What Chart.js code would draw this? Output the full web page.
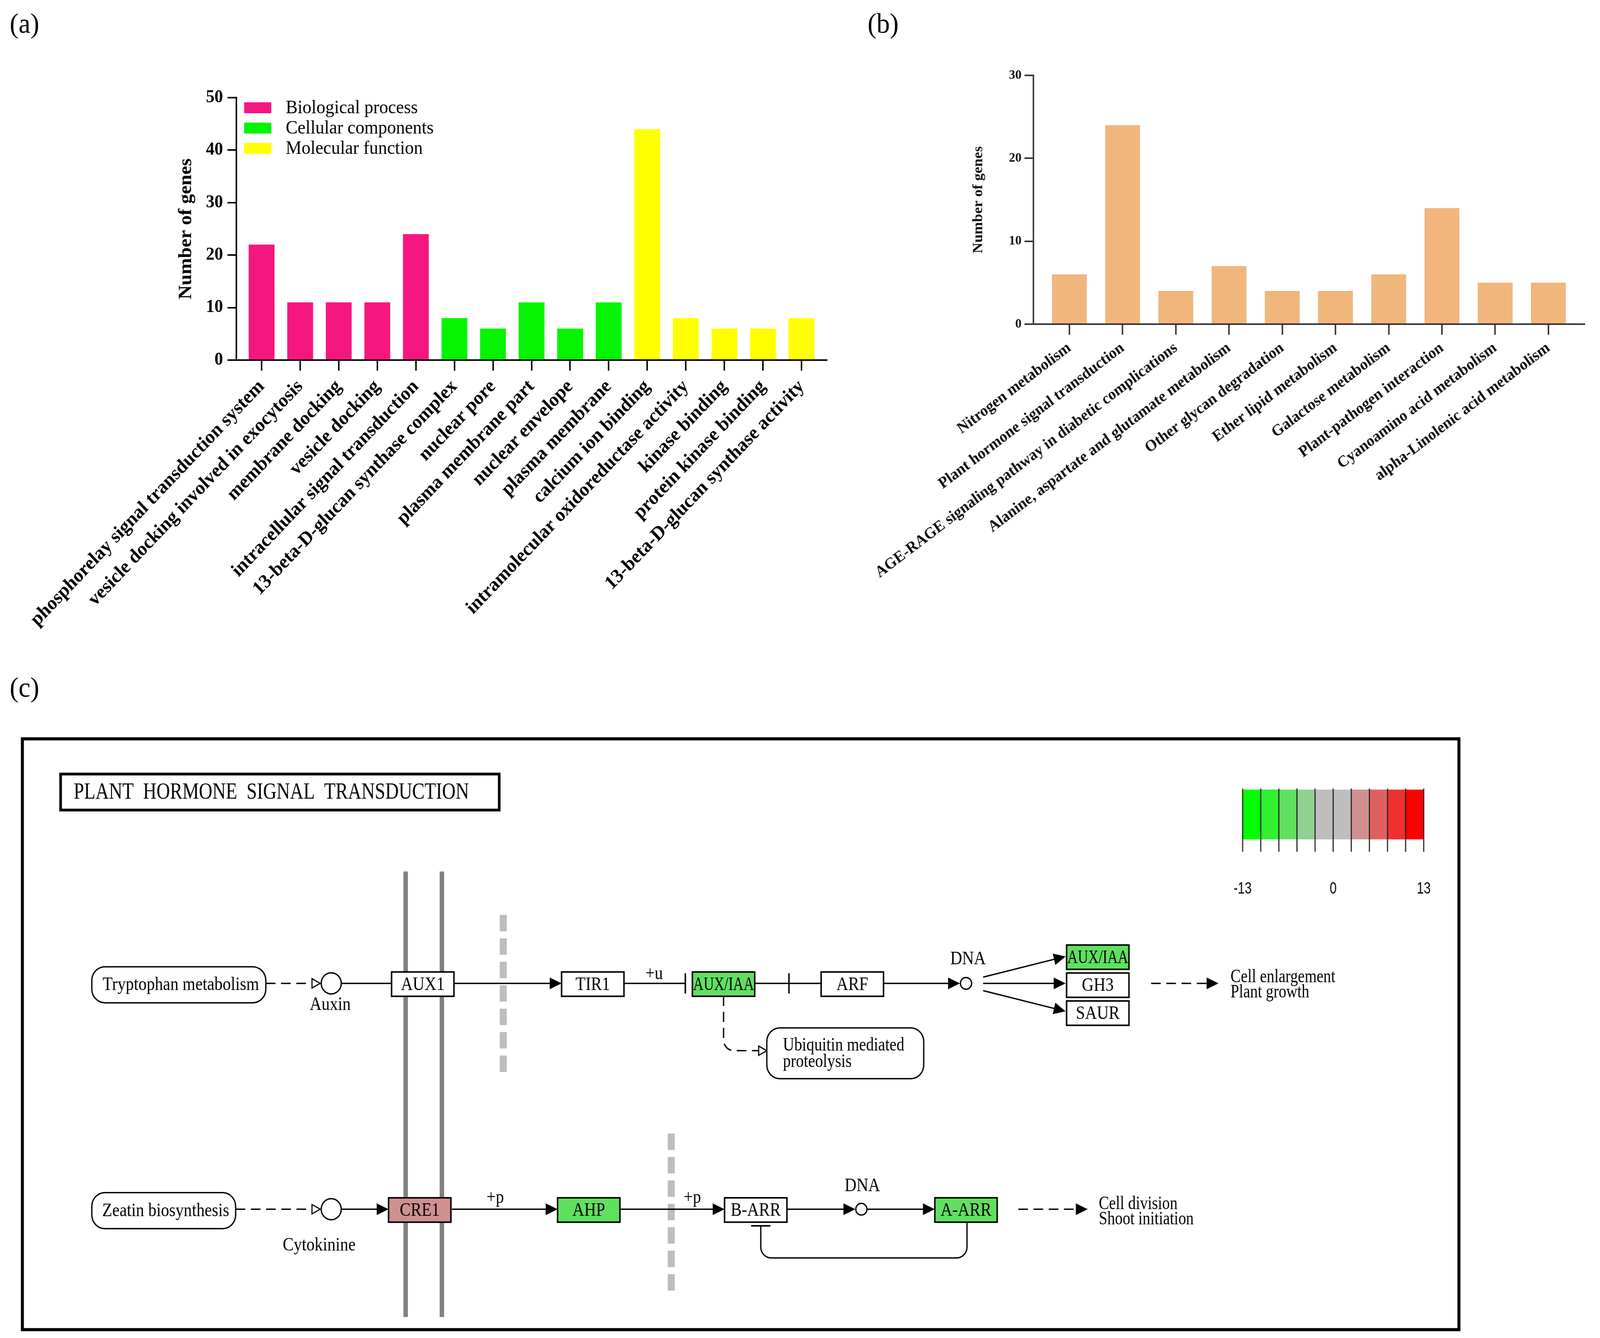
<!DOCTYPE html>
<html>
<head>
<meta charset="utf-8">
<script src="https://cdn.jsdelivr.net/npm/chart.js@4.4.1/dist/chart.umd.min.js"></script>
<style>
  html, body { margin: 0; padding: 0; background: #fff; overflow: hidden; }
  #page { position: relative; width: 4312px; height: 3426px; overflow: hidden; background: #fff; transform-origin: 0 0; }
  canvas { position: absolute; }
  .tag { position: absolute; font-family: "Liberation Serif", "Times New Roman", serif; font-size: 72px; line-height: 1; color: #000; }
</style>
</head>
<body>
<div id="page">
  <div class="tag" style="left:26px;top:24px">(a)</div>
  <div class="tag" style="left:2338px;top:24px">(b)</div>
  <div class="tag" style="left:26px;top:1724px">(c)</div>
  <canvas id="goChart" width="2300" height="1700" style="left:0;top:0;width:2300px;height:1700px"></canvas>
  <canvas id="keggChart" width="2012" height="1700" style="left:2300px;top:0;width:2012px;height:1700px"></canvas>
  <canvas id="pathChart" width="4312" height="1726" style="left:0;top:1700px;width:4312px;height:1726px"></canvas>
</div>
<script>
// the figure is laid out at 4312 x 3426; squeeze it into the real viewport if that is smaller
var fitX = Math.min(1, window.innerWidth / 4312)
var fitY = Math.min(1, window.innerHeight / 3426)
document.getElementById('page').style.transform = 'scale(' + fitX + ',' + fitY + ')'

// (a) GO enrichment
var goTerms = [
  'phosphorelay signal transduction system',
  'vesicle docking involved in exocytosis',
  'membrane docking',
  'vesicle docking',
  'intracellular signal transduction',
  '13-beta-D-glucan synthase complex',
  'nuclear pore',
  'plasma membrane part',
  'nuclear envelope',
  'plasma membrane',
  'calcium ion binding',
  'intramolecular oxidoreductase activity',
  'kinase binding',
  'protein kinase binding',
  '13-beta-D-glucan synthase activity'
]
var goGenes = [22, 11, 11, 11, 24, 8, 6, 11, 6, 11, 44, 8, 6, 6, 8]
var goOntology = [0, 0, 0, 0, 0, 1, 1, 1, 1, 1, 2, 2, 2, 2, 2]
var goOntologyNames = ['Biological process', 'Cellular components', 'Molecular function']
var goAxisMax = 50
var goAxisStep = 10

// (b) KEGG enrichment
var keggPathways = [
  'Nitrogen metabolism',
  'Plant hormone signal transduction',
  'AGE-RAGE signaling pathway in diabetic complications',
  'Alanine, aspartate and glutamate metabolism',
  'Other glycan degradation',
  'Ether lipid metabolism',
  'Galactose metabolism',
  'Plant-pathogen interaction',
  'Cyanoamino acid metabolism',
  'alpha-Linolenic acid metabolism'
]
var keggGenes = [6, 24, 4, 7, 4, 4, 6, 14, 5, 5]
var keggAxisMax = 30
var keggAxisStep = 10

// (c) plant hormone signal transduction map
var geneNames = ['AUX1', 'TIR1', 'AUX/IAA', 'ARF', 'AUX/IAA', 'GH3', 'SAUR', 'CRE1', 'AHP', 'B-ARR', 'A-ARR']
var geneLevel = [null, null, -6, null, -6, null, null, 4, -6, null, -6]   // null = not found
var compoundNames = ['Auxin', 'Cytokinine', 'DNA', 'DNA']
var mapNames = [['Tryptophan metabolism'], ['Zeatin biosynthesis'], ['Ubiquitin mediated', 'proteolysis']]
var outcomeNames = [['Cell enlargement', 'Plant growth'], ['Cell division', 'Shoot initiation']]
var edgeLabels = ['+u', '+p', '+p']
var keyMin = -13
var keyMax = 13
var keyLabels = [-13, 0, 13]
var mapTitle = 'PLANT  HORMONE  SIGNAL  TRANSDUCTION'

// styles
var SERIF = '"Liberation Serif", "Times New Roman", serif'
var goColors = ['#F6167F', '#04F404', '#FFFF00']
var keggColor = '#F0B67C'
var keyColors = ['#00FF00', '#30F030', '#60E060', '#90D090', '#BEBEBE', '#BEBEBE', '#D09090', '#E06060', '#F03030', '#FF0000']

// map geometry (KEGG map units, frame origin top-left)
var frameBox = [0, 0, 1428, 558]
var titleBox = [38, 34, 436, 34]
var geneBox = [[367, 225], [536, 225], [666, 225], [794, 225], [1038, 199], [1038, 226], [1038, 253],
  [364, 443], [532, 443], [698, 443], [907, 443]]
var geneW = 62, geneH = 23
var compoundAt = [[307, 236], [307, 454], [938, 236], [834, 454]]
var compoundLabelAt = [[306, 257], [295, 489], [940, 213], [835, 432]]
var compoundR = [27, 27, 15, 15]
var mapBox = [[69, 220, 173, 34], [69, 438, 143, 34], [740, 279, 156, 48]]
var outcomeAt = [[1201, 230], [1070, 449]]
var edgeLabelAt = [[628, 227], [470, 443], [666, 443]]
var membraneX = [381, 417], membraneTop = 128
var separators = [[478, 170, 323], [645, 381, 535]]
var keyBox = [1213, 49, 180, 47], keyTickEnd = 109, keyLabelY = 145
var edges = [
  { pts: [[242, 236], [296, 236]], dash: true, head: 'open' },
  { pts: [[317, 236], [367, 236]] },
  { pts: [[429, 236], [536, 236]], head: 'arrow' },
  { pts: [[598, 236], [659, 236]], head: 'bar' },
  { pts: [[728, 236], [762, 236]], head: 'bar' },
  { pts: [[762, 236], [794, 236]] },
  { pts: [[856, 236], [932, 236]], head: 'arrow' },
  { pts: [[955, 230], [1037, 210]], head: 'arrow' },
  { pts: [[955, 236], [1037, 236]], head: 'arrow' },
  { pts: [[955, 243], [1037, 263]], head: 'arrow' },
  { pts: [[1122, 236], [1189, 236]], dash: true, head: 'arrow' },
  { pts: [[697, 248], [697, 301], [740, 301]], dash: true, head: 'open' },
  { pts: [[212, 454], [296, 454]], dash: true, head: 'open' },
  { pts: [[317, 454], [364, 454]], head: 'arrow' },
  { pts: [[427, 454], [532, 454]], head: 'arrow' },
  { pts: [[594, 454], [698, 454]], head: 'arrow' },
  { pts: [[760, 454], [828, 454]], head: 'arrow' },
  { pts: [[840, 454], [907, 454]], head: 'arrow' },
  { pts: [[990, 454], [1059, 454]], dash: true, head: 'arrow' },
  { pts: [[939, 466], [939, 501], [734, 501], [734, 470]], head: 'bar' }
]

function barScales(names, yMax, yStep, o) {
  return {
    x: {
      type: 'linear',
      offset: false,
      min: o.xMin,
      max: o.xMax,
      afterBuildTicks: function (s) { s.ticks = names.map(function (n, i) { return { value: i } }) },
      afterFit: function (s) { s.height = o.xHeight },
      ticks: {
        autoSkip: false, minRotation: o.rot, maxRotation: o.rot, padding: o.xPad, color: o.txt,
        font: { family: SERIF, size: o.xFont, weight: 'bold' },
        callback: function (v) { return names[v] }
      },
      grid: { offset: false, drawOnChartArea: false, drawTicks: true, tickLength: o.xTick, lineWidth: o.lw, color: o.axis },
      border: { display: true, width: o.lw, color: o.axis }
    },
    y: {
      min: 0,
      max: yMax,
      afterFit: function (s) { s.width = o.yWidth },
      ticks: { stepSize: yStep, padding: o.yPad, color: o.txt, font: { family: SERIF, size: o.yFont, weight: 'bold' } },
      grid: { drawOnChartArea: false, drawTicks: true, tickLength: o.yTick, lineWidth: o.lw, color: o.axis },
      border: { display: true, width: o.lw, color: o.axis },
      title: {
        display: true, text: 'Number of genes', color: o.txt,
        font: { family: SERIF, size: o.tFont, weight: 'bold' },
        padding: { top: o.tPad, bottom: 0 }
      }
    }
  }
}

var goLegend = {
  id: 'goLegend',
  afterDraw: function (chart) {
    var ctx = chart.ctx, area = chart.chartArea
    ctx.save()
    ctx.font = '48px ' + SERIF
    ctx.textBaseline = 'middle'
    chart.data.datasets.forEach(function (ds, i) {
      var yc = area.top + 26 + i * 52
      ctx.fillStyle = ds.backgroundColor
      ctx.fillRect(area.left + 21, yc - 14, 73, 28)
      ctx.fillStyle = '#000'
      ctx.fillText(ds.label, area.left + 133, yc + 1)
    })
    ctx.restore()
  }
}

new Chart(document.getElementById('goChart'), {
  type: 'bar',
  data: {
    datasets: goOntologyNames.map(function (name, g) {
      return {
        label: name,
        data: goTerms.map(function (t, i) { return { x: i, y: goGenes[i], g: goOntology[i] } })
          .filter(function (p) { return p.g === g }),
        backgroundColor: goColors[g],
        grouped: false,
        barPercentage: 0.67,
        categoryPercentage: 1
      }
    })
  },
  options: {
    responsive: false, devicePixelRatio: 1, animation: false, events: [],
    layout: { padding: { top: 250, right: 72, bottom: 0, left: 0 } },
    plugins: { legend: { display: false }, tooltip: { enabled: false } },
    scales: barScales(goTerms, goAxisMax, goAxisStep, {
      xMin: -0.654, xMax: 14.654, xHeight: 778, rot: 45, xPad: 12, xFont: 50, xTick: 27,
      yWidth: 637, yPad: 12, yFont: 46, yTick: 24, tFont: 50, tPad: 472,
      lw: 4, axis: '#000', txt: '#000'
    })
  },
  plugins: [goLegend]
})

new Chart(document.getElementById('keggChart'), {
  type: 'bar',
  data: {
    datasets: [{
      label: 'KEGG',
      data: keggGenes.map(function (v, i) { return { x: i, y: v } }),
      backgroundColor: keggColor,
      barPercentage: 0.655,
      categoryPercentage: 1
    }]
  },
  options: {
    responsive: false, devicePixelRatio: 1, animation: false, events: [],
    layout: { padding: { top: 193, right: 42, bottom: 0, left: 0 } },
    plugins: { legend: { display: false }, tooltip: { enabled: false } },
    scales: barScales(keggPathways, keggAxisMax, keggAxisStep, {
      xMin: -0.676, xMax: 9.677, xHeight: 870, rot: 36, xPad: 10, xFont: 41, xTick: 27,
      yWidth: 485, yPad: 8, yFont: 34, yTick: 24, tFont: 38, tPad: 314,
      lw: 4, axis: '#333', txt: '#111'
    })
  }
})

// ---- pathway map helpers
function mapper(chart) {
  var sx = chart.scales.x, sy = chart.scales.y
  var x = function (v) { return sx.getPixelForValue(v) }
  var y = function (v) { return sy.getPixelForValue(v) }
  return { x: x, y: y, u: x(1) - x(0) }
}

function levelColor(v) {
  if (v === null) return '#FFFFFF'
  var i = Math.floor((v - keyMin) / (keyMax - keyMin) * keyColors.length)
  return keyColors[Math.max(0, Math.min(keyColors.length - 1, i))]
}

function say(ctx, text, X, Y, size, align, squeeze, family, fitW) {
  ctx.save()
  ctx.font = size + 'px ' + (family || SERIF)
  var s = squeeze
  if (fitW) s = Math.min(squeeze, fitW / ctx.measureText(text).width)
  ctx.translate(X, Y)
  ctx.scale(s, 1)
  ctx.textAlign = align
  ctx.textBaseline = 'middle'
  ctx.fillStyle = '#000'
  ctx.fillText(text, 0, 0)
  ctx.restore()
}

function drawEdge(ctx, m, e) {
  var pts = e.pts.map(function (p) { return [m.x(p[0]), m.y(p[1])] })
  var n = pts.length
  var a = pts[n - 2], b = pts[n - 1]
  var L = Math.hypot(b[0] - a[0], b[1] - a[1])
  var ux = (b[0] - a[0]) / L, uy = (b[1] - a[1]) / L
  var cut = e.head === 'open' ? 22 : e.head === 'arrow' ? 18 : 0
  var end = [b[0] - ux * cut, b[1] - uy * cut]
  ctx.save()
  ctx.strokeStyle = '#000'
  ctx.fillStyle = '#000'
  ctx.lineWidth = 3.5
  ctx.setLineDash(e.dash ? [26, 15] : [])
  ctx.beginPath()
  ctx.moveTo(pts[0][0], pts[0][1])
  for (var i = 1; i < n - 1; i++) {
    var nx = i + 1 === n - 1 ? end : pts[i + 1]
    ctx.arcTo(pts[i][0], pts[i][1], nx[0], nx[1], 28)
  }
  ctx.lineTo(end[0], end[1])
  ctx.stroke()
  ctx.setLineDash([])
  var px = -uy, py = ux
  if (e.head === 'arrow') {
    ctx.beginPath()
    ctx.moveTo(b[0], b[1])
    ctx.lineTo(b[0] - ux * 32 + px * 15, b[1] - uy * 32 + py * 15)
    ctx.lineTo(b[0] - ux * 32 - px * 15, b[1] - uy * 32 - py * 15)
    ctx.closePath()
    ctx.fill()
  } else if (e.head === 'open') {
    ctx.beginPath()
    ctx.moveTo(b[0], b[1])
    ctx.lineTo(b[0] - ux * 22 + px * 12, b[1] - uy * 22 + py * 12)
    ctx.lineTo(b[0] - ux * 22 - px * 12, b[1] - uy * 22 - py * 12)
    ctx.closePath()
    ctx.fillStyle = '#fff'
    ctx.fill()
    ctx.lineWidth = 3
    ctx.stroke()
  } else if (e.head === 'bar') {
    ctx.lineWidth = 4
    ctx.beginPath()
    ctx.moveTo(b[0] + px * 26, b[1] + py * 26)
    ctx.lineTo(b[0] - px * 26, b[1] - py * 26)
    ctx.stroke()
  }
  ctx.restore()
}

var pathwayMap = {
  id: 'pathwayMap',
  beforeDatasetsDraw: function (chart) {
    var ctx = chart.ctx, m = mapper(chart)
    ctx.save()
    ctx.strokeStyle = '#808080'
    ctx.lineWidth = 12
    membraneX.forEach(function (v) {
      ctx.beginPath()
      ctx.moveTo(m.x(v), m.y(membraneTop))
      ctx.lineTo(m.x(v), m.y(frameBox[3]))
      ctx.stroke()
    })
    ctx.strokeStyle = '#BDBDBD'
    ctx.lineWidth = 19
    ctx.setLineDash([42, 18])
    separators.forEach(function (s) {
      ctx.beginPath()
      ctx.moveTo(m.x(s[0]), m.y(s[1]))
      ctx.lineTo(m.x(s[0]), m.y(s[2]))
      ctx.stroke()
    })
    ctx.restore()
  },
  afterDatasetsDraw: function (chart) {
    var ctx = chart.ctx, m = mapper(chart), u = m.u
    edges.forEach(function (e) { drawEdge(ctx, m, e) })

    // gene products
    ctx.save()
    ctx.lineWidth = 4
    ctx.strokeStyle = '#000'
    geneNames.forEach(function (g, i) {
      var bx = m.x(geneBox[i][0]), by = m.y(geneBox[i][1])
      ctx.fillStyle = levelColor(geneLevel[i])
      ctx.fillRect(bx, by, geneW * u, geneH * u)
      ctx.strokeRect(bx, by, geneW * u, geneH * u)
      say(ctx, g, bx + geneW * u / 2, by + geneH * u / 2 + 2, 48, 'center', 0.92, SERIF, geneW * u - 4)
    })
    ctx.restore()

    // linked maps
    ctx.save()
    ctx.lineWidth = 3.5
    ctx.strokeStyle = '#000'
    mapNames.forEach(function (lines, i) {
      var b = mapBox[i]
      ctx.beginPath()
      ctx.roundRect(m.x(b[0]), m.y(b[1]), b[2] * u, b[3] * u, 13 * u)
      ctx.fillStyle = '#fff'
      ctx.fill()
      ctx.stroke()
      if (lines.length === 1) {
        say(ctx, lines[0], m.x(b[0] + b[2] / 2 + 2), m.y(b[1] + b[3] / 2) + 2, 48, 'center', 0.92)
      } else {
        lines.forEach(function (t, k) {
          say(ctx, t, m.x(b[0] + 16), m.y(b[1] + 17 + k * 16), 48, 'left', 0.88)
        })
      }
    })
    ctx.restore()

    compoundNames.forEach(function (c, i) {
      say(ctx, c, m.x(compoundLabelAt[i][0]), m.y(compoundLabelAt[i][1]), 48, 'center', 0.92)
    })
    edgeLabels.forEach(function (t, i) {
      say(ctx, t, m.x(edgeLabelAt[i][0]), m.y(edgeLabelAt[i][1]), 48, 'center', 0.92)
    })
    outcomeNames.forEach(function (lines, i) {
      lines.forEach(function (t, k) {
        say(ctx, t, m.x(outcomeAt[i][0]), m.y(outcomeAt[i][1] + k * 15), 48, 'left', 0.86)
      })
    })

    // colour key
    ctx.save()
    var kx = function (v) { return m.x(keyBox[0] + (v - keyMin) / (keyMax - keyMin) * keyBox[2]) }
    var step = (keyMax - keyMin) / keyColors.length
    keyColors.forEach(function (c, i) {
      var v0 = keyMin + i * step
      ctx.fillStyle = c
      ctx.fillRect(kx(v0), m.y(keyBox[1]), kx(v0 + step) - kx(v0), keyBox[3] * u)
    })
    ctx.strokeStyle = '#222'
    ctx.lineWidth = 3
    for (var i = 0; i <= keyColors.length; i++) {
      ctx.beginPath()
      ctx.moveTo(kx(keyMin + i * step), m.y(keyBox[1] - 1))
      ctx.lineTo(kx(keyMin + i * step), m.y(keyTickEnd))
      ctx.stroke()
    }
    ctx.restore()
    keyLabels.forEach(function (v) {
      say(ctx, String(v), kx(v), m.y(keyLabelY), 42, 'center', 0.8, '"Liberation Sans", Arial, sans-serif')
    })

    // title and frame
    ctx.save()
    ctx.strokeStyle = '#000'
    ctx.lineWidth = 7
    ctx.strokeRect(m.x(titleBox[0]), m.y(titleBox[1]), titleBox[2] * u, titleBox[3] * u)
    say(ctx, mapTitle, m.x(titleBox[0] + 13), m.y(titleBox[1] + titleBox[3] / 2) + 2, 60, 'left', 1, SERIF, 393 * u)
    ctx.lineWidth = 8
    ctx.strokeRect(m.x(frameBox[0]), m.y(frameBox[1]), frameBox[2] * u, frameBox[3] * u)
    ctx.restore()
  }
}

new Chart(document.getElementById('pathChart'), {
  type: 'scatter',
  data: {
    datasets: [{
      label: 'compounds',
      data: compoundAt.map(function (p) { return { x: p[0], y: p[1] } }),
      pointRadius: compoundR,
      pointBackgroundColor: '#fff',
      pointBorderColor: '#000',
      pointBorderWidth: 3.5
    }]
  },
  options: {
    responsive: false, devicePixelRatio: 1, animation: false, events: [],
    layout: { padding: 0 },
    plugins: { legend: { display: false }, tooltip: { enabled: false } },
    scales: {
      x: { type: 'linear', display: false, min: -11, max: 1557 },
      y: { type: 'linear', display: false, min: -60.8, max: 566.8, reverse: true }
    }
  },
  plugins: [pathwayMap]
})
</script>
</body>
</html>
